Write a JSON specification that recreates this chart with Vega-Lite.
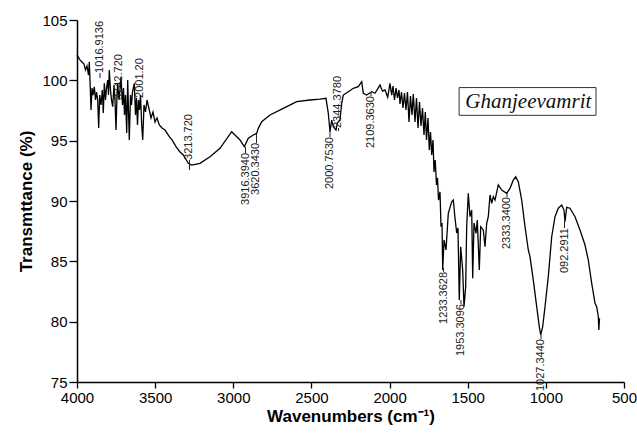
{
  "$schema": "https://vega.github.io/schema/vega-lite/v6.json",
  "width": 547,
  "height": 362,
  "autosize": "none",
  "padding": {"left": 77, "top": 20, "right": 13, "bottom": 52},
  "background": "white",
  "config": {"view": {"stroke": null}, "font": "Liberation Sans"},
  "datasets": {
    "spec": [
      {"w": 4000, "t": 102.1}, {"w": 3980.8, "t": 101.69}, {"w": 3968.0, "t": 101.52}, {"w": 3955.2, "t": 101.35},
      {"w": 3945.6, "t": 100.86}, {"w": 3936.0, "t": 101.19}, {"w": 3926.4, "t": 100.44}, {"w": 3921.3, "t": 101.54},
      {"w": 3916.8, "t": 100.03}, {"w": 3910.4, "t": 97.54}, {"w": 3904.0, "t": 99.36}, {"w": 3897.6, "t": 98.78},
      {"w": 3889.3, "t": 99.47}, {"w": 3881.6, "t": 98.37}, {"w": 3875.2, "t": 99.03}, {"w": 3867.6, "t": 98.37},
      {"w": 3861.2, "t": 96.05}, {"w": 3854.8, "t": 98.78}, {"w": 3846.4, "t": 97.96}, {"w": 3838.1, "t": 99.2},
      {"w": 3831.7, "t": 97.29}, {"w": 3825.3, "t": 99.75}, {"w": 3817.6, "t": 98.37}, {"w": 3811.2, "t": 99.36},
      {"w": 3803.6, "t": 100.03}, {"w": 3798.4, "t": 98.78}, {"w": 3793.3, "t": 100.86}, {"w": 3785.7, "t": 99.2},
      {"w": 3779.3, "t": 98.37}, {"w": 3771.6, "t": 97.82}, {"w": 3763.3, "t": 99.61}, {"w": 3756.9, "t": 98.37},
      {"w": 3750.5, "t": 95.88}, {"w": 3744.1, "t": 98.78}, {"w": 3739.6, "t": 99.75}, {"w": 3731.3, "t": 98.37},
      {"w": 3724.9, "t": 99.2}, {"w": 3718.5, "t": 100.3}, {"w": 3708.9, "t": 97.96}, {"w": 3702.5, "t": 99.36},
      {"w": 3696.1, "t": 97.13}, {"w": 3689.7, "t": 98.78}, {"w": 3682.0, "t": 95.64}, {"w": 3675.6, "t": 100.03},
      {"w": 3670.5, "t": 97.54}, {"w": 3665.4, "t": 95.06}, {"w": 3657.7, "t": 98.78}, {"w": 3651.3, "t": 97.96},
      {"w": 3644.9, "t": 99.03}, {"w": 3633.4, "t": 99.75}, {"w": 3625.7, "t": 97.13}, {"w": 3619.3, "t": 98.54},
      {"w": 3612.9, "t": 96.3}, {"w": 3606.5, "t": 98.37}, {"w": 3600.1, "t": 97.54}, {"w": 3593.7, "t": 98.78},
      {"w": 3586.0, "t": 96.3}, {"w": 3579.6, "t": 95.06}, {"w": 3571.3, "t": 97.96}, {"w": 3561.7, "t": 97.38},
      {"w": 3552.1, "t": 98.37}, {"w": 3537.4, "t": 97.54}, {"w": 3526.5, "t": 96.88}, {"w": 3513.7, "t": 97.38},
      {"w": 3500.9, "t": 96.55}, {"w": 3488.1, "t": 96.88}, {"w": 3473.4, "t": 96.3}, {"w": 3456.1, "t": 96.05},
      {"w": 3437.1, "t": 95.88}, {"w": 3409.4, "t": 95.33}, {"w": 3392.1, "t": 95.06}, {"w": 3366.6, "t": 94.5},
      {"w": 3341.0, "t": 94.06}, {"w": 3319.8, "t": 93.81},
      {"w": 3287.8, "t": 93.12}, {"w": 3266.1, "t": 92.98}, {"w": 3213.0, "t": 93.12}, {"w": 3149.0, "t": 93.67},
      {"w": 3085.0, "t": 94.37}, {"w": 3010.2, "t": 95.74}, {"w": 2957.0, "t": 95.06}, {"w": 2929.5, "t": 94.5},
      {"w": 2903.9, "t": 95.2}, {"w": 2871.9, "t": 95.47}, {"w": 2850.2, "t": 95.61}, {"w": 2840.0, "t": 96.02},
      {"w": 2818.2, "t": 96.57}, {"w": 2765.1, "t": 97.13}, {"w": 2680.0, "t": 97.68}, {"w": 2594.3, "t": 98.23},
      {"w": 2509.2, "t": 98.37}, {"w": 2445.2, "t": 98.45}, {"w": 2406.8, "t": 98.51}, {"w": 2392.1, "t": 97.27},
      {"w": 2381.2, "t": 95.74}, {"w": 2370.3, "t": 96.71}, {"w": 2360.0, "t": 96.16}, {"w": 2342.8, "t": 95.88},
      {"w": 2334.5, "t": 96.46}, {"w": 2317.2, "t": 96.71}, {"w": 2306.4, "t": 98.1}, {"w": 2296.1, "t": 98.78},
      {"w": 2264.1, "t": 99.06}, {"w": 2232.1, "t": 99.34}, {"w": 2200.1, "t": 99.47}, {"w": 2178.4, "t": 99.89},
      {"w": 2168.1, "t": 98.93}, {"w": 2146.4, "t": 98.78}, {"w": 2114.4, "t": 99.06}, {"w": 2093.3, "t": 98.93},
      {"w": 2061.3, "t": 99.61}, {"w": 2045.0, "t": 99.1}, {"w": 2029.3, "t": 99.2}, {"w": 2012.0, "t": 98.6},
      {"w": 1997.3, "t": 99.75}, {"w": 1986.4, "t": 98.78}, {"w": 1978.1, "t": 99.53}, {"w": 1968.5, "t": 98.37},
      {"w": 1958.9, "t": 99.36}, {"w": 1949.3, "t": 98.54}, {"w": 1939.7, "t": 99.2}, {"w": 1933.3, "t": 98.04},
      {"w": 1923.7, "t": 99.03}, {"w": 1914.1, "t": 97.71}, {"w": 1904.6, "t": 98.95}, {"w": 1895.0, "t": 97.54},
      {"w": 1885.4, "t": 99.03}, {"w": 1875.8, "t": 96.55}, {"w": 1866.2, "t": 98.7}, {"w": 1856.6, "t": 97.13},
      {"w": 1848.2, "t": 98.87}, {"w": 1837.3, "t": 96.55}, {"w": 1827.7, "t": 98.54}, {"w": 1818.1, "t": 96.05},
      {"w": 1808.5, "t": 98.2}, {"w": 1798.9, "t": 96.22}, {"w": 1789.3, "t": 97.71}, {"w": 1779.7, "t": 95.47},
      {"w": 1771.4, "t": 97.38}, {"w": 1763.7, "t": 95.06}, {"w": 1754.1, "t": 96.88}, {"w": 1745.8, "t": 94.23},
      {"w": 1738.1, "t": 95.72}, {"w": 1730.4, "t": 93.81}, {"w": 1722.1, "t": 95.06}, {"w": 1715.7, "t": 92.4},
      {"w": 1708.1, "t": 93.4}, {"w": 1699.7, "t": 91.33}, {"w": 1693.3, "t": 91.91}, {"w": 1686.9, "t": 90.08},
      {"w": 1677.3, "t": 90.75}, {"w": 1670.9, "t": 87.87}, {"w": 1664.5, "t": 88.18}, {"w": 1660.0, "t": 84.28},
      {"w": 1651.7, "t": 86.77}, {"w": 1638.9, "t": 85.94}, {"w": 1624.2, "t": 88.98}, {"w": 1602.5, "t": 89.94},
      {"w": 1592.3, "t": 90.08}, {"w": 1581.4, "t": 88.59}, {"w": 1570.5, "t": 87.35}, {"w": 1562.3, "t": 87.76},
      {"w": 1553.9, "t": 81.8}, {"w": 1545.0, "t": 86.21}, {"w": 1532.2, "t": 84.28}, {"w": 1523.8, "t": 81.24},
      {"w": 1513.0, "t": 82.9}, {"w": 1506.6, "t": 87.87}, {"w": 1496.3, "t": 90.64}, {"w": 1485.4, "t": 88.7},
      {"w": 1474.5, "t": 89.25}, {"w": 1468.1, "t": 83.59}, {"w": 1459.8, "t": 88.18}, {"w": 1447.0, "t": 87.32},
      {"w": 1438.7, "t": 88.43}, {"w": 1425.9, "t": 84.28}, {"w": 1416.9, "t": 87.87}, {"w": 1400.3, "t": 87.6},
      {"w": 1389.4, "t": 86.21}, {"w": 1378.5, "t": 88.15}, {"w": 1368.3, "t": 88.7}, {"w": 1357.4, "t": 90.5},
      {"w": 1346.5, "t": 89.81}, {"w": 1336.3, "t": 90.36}, {"w": 1325.5, "t": 90.08}, {"w": 1304.3, "t": 91.33},
      {"w": 1282.6, "t": 90.91}, {"w": 1250.6, "t": 90.64}, {"w": 1229.5, "t": 91.05}, {"w": 1208.3, "t": 91.74},
      {"w": 1193.0, "t": 92.01}, {"w": 1176.3, "t": 91.6}, {"w": 1154.6, "t": 90.08}, {"w": 1133.5, "t": 87.87},
      {"w": 1112.3, "t": 85.94}, {"w": 1101.5, "t": 85.38}, {"w": 1080.4, "t": 83.45}, {"w": 1058.6, "t": 81.24},
      {"w": 1042.0, "t": 79.58}, {"w": 1033.0, "t": 78.9}, {"w": 1020.2, "t": 79.58}, {"w": 1005.5, "t": 81.24},
      {"w": 984.4, "t": 83.73}, {"w": 962.6, "t": 87.04}, {"w": 941.5, "t": 88.7}, {"w": 920.4, "t": 89.4},
      {"w": 898.6, "t": 89.67}, {"w": 883.9, "t": 89.25}, {"w": 877.5, "t": 88.28}, {"w": 866.6, "t": 89.48},
      {"w": 845.5, "t": 89.4}, {"w": 813.5, "t": 88.7}, {"w": 781.5, "t": 87.6}, {"w": 749.5, "t": 86.35},
      {"w": 728.4, "t": 85.11}, {"w": 706.6, "t": 83.18}, {"w": 685.5, "t": 81.52}, {"w": 674.6, "t": 81.24},
      {"w": 664.4, "t": 80.41}, {"w": 661.1, "t": 79.31}, {"w": 656.7, "t": 80.28}
    ],
    "labels": [
      {"w": 3852.8, "t": 100.19, "t2": 100.61, "s": "1016.9136", "a": "l"},
      {"w": 3731.3, "t": 98.37, "t2": 98.37, "s": "3742.720", "a": "l"},
      {"w": 3596.9, "t": 98.54, "t2": 98.54, "s": "2001.20", "a": "l"},
      {"w": 3280.2, "t": 92.57, "t2": 93.4, "s": "3213.720", "a": "l"},
      {"w": 2921.8, "t": 94.48, "t2": 93.98, "s": "3916.3940", "a": "r"},
      {"w": 2851.5, "t": 95.55, "t2": 94.81, "s": "3620.3430", "a": "r"},
      {"w": 2381.2, "t": 95.8, "t2": 95.3, "s": "2000.7530", "a": "r"},
      {"w": 2326.8, "t": 95.8, "t2": 96.05, "s": "2344.3780", "a": "l"},
      {"w": 2118.8, "t": 99.03, "t2": 98.7, "s": "2109.3630", "a": "r"},
      {"w": 1654.9, "t": 84.45, "t2": 84.12, "s": "1233.3628", "a": "r"},
      {"w": 1542.9, "t": 81.8, "t2": 81.46, "s": "1953.3096", "a": "r"},
      {"w": 1248.6, "t": 90.66, "t2": 90.33, "s": "2333.3400", "a": "r"},
      {"w": 1031.1, "t": 78.9, "t2": 78.56, "s": "1027.3440", "a": "r"},
      {"w": 880.7, "t": 88.34, "t2": 87.76, "s": "092.2911", "a": "r"}
    ],
    "box": [
      {"w1": 1555.0, "w2": 679.2, "t1": 99.4, "t2": 97.1, "w": 1112.0, "t": 98.2, "s": "Ghanjeevamrit"}
    ]
  },
  "layer": [
    {
      "data": {"name": "spec"},
      "mark": {"type": "line", "color": "black", "strokeWidth": 1.3},
      "encoding": {
        "x": {
          "field": "w", "type": "quantitative",
          "scale": {"domain": [500, 4000], "reverse": true, "nice": false, "zero": false},
          "axis": {
            "title": "Wavenumbers (cm⁻¹)",
            "values": [4000, 3750, 3500, 3250, 3000, 2750, 2500, 2250, 2000, 1750, 1500, 1250, 1000, 750, 500],
            "format": "d",
            "labelExpr": "datum.value % 500 === 0 ? datum.label : ''",
            "labelFlush": false,
            "labelOverlap": false,
            "grid": false,
            "domainColor": "black", "domainWidth": 1.5,
            "tickColor": "black", "tickWidth": 1.3, "tickSize": 6,
            "labelColor": "black", "labelFontSize": 15, "labelPadding": 2,
            "labelFont": "Liberation Sans",
            "titleColor": "black", "titleFontSize": 17, "titleFontWeight": "bold", "titlePadding": 3,
            "titleFont": "Liberation Sans"
          }
        },
        "y": {
          "field": "t", "type": "quantitative",
          "scale": {"domain": [75, 105], "nice": false, "zero": false},
          "axis": {
            "title": "Transmttance (%)",
            "values": [75, 77.5, 80, 82.5, 85, 87.5, 90, 92.5, 95, 97.5, 100, 102.5, 105],
            "format": "d",
            "labelExpr": "datum.value % 5 === 0 ? datum.label : ''",
            "labelFlush": false,
            "labelOverlap": false,
            "grid": false,
            "domainColor": "black", "domainWidth": 1.5,
            "tickColor": "black", "tickWidth": 1.3,
            "tickSize": {"condition": {"test": "datum.value % 5 === 0", "value": 8}, "value": 5},
            "labelColor": "black", "labelFontSize": 15, "labelPadding": 2,
            "labelFont": "Liberation Sans",
            "titleColor": "black", "titleFontSize": 17, "titleFontWeight": "bold", "titlePadding": 6,
            "titleFont": "Liberation Sans"
          }
        }
      }
    },
    {
      "data": {"name": "labels"},
      "mark": {"type": "rule", "color": "#222", "strokeWidth": 1},
      "encoding": {
        "x": {"field": "w", "type": "quantitative"},
        "y": {"field": "t", "type": "quantitative"},
        "y2": {"field": "t2"}
      }
    },
    {
      "data": {"name": "labels"},
      "transform": [{"filter": "datum.a === 'l'"}],
      "mark": {"type": "text", "angle": 270, "align": "left", "baseline": "middle", "fontSize": 11, "font": "Liberation Sans", "color": "#222"},
      "encoding": {
        "x": {"field": "w", "type": "quantitative"},
        "y": {"field": "t2", "type": "quantitative"},
        "text": {"field": "s"}
      }
    },
    {
      "data": {"name": "labels"},
      "transform": [{"filter": "datum.a === 'r'"}],
      "mark": {"type": "text", "angle": 270, "align": "right", "baseline": "middle", "fontSize": 11, "font": "Liberation Sans", "color": "#222"},
      "encoding": {
        "x": {"field": "w", "type": "quantitative"},
        "y": {"field": "t2", "type": "quantitative"},
        "text": {"field": "s"}
      }
    },
    {
      "data": {"name": "box"},
      "mark": {"type": "rect", "fill": "white", "stroke": "#333", "strokeWidth": 1},
      "encoding": {
        "x": {"field": "w1", "type": "quantitative"},
        "x2": {"field": "w2"},
        "y": {"field": "t1", "type": "quantitative"},
        "y2": {"field": "t2"}
      }
    },
    {
      "data": {"name": "box"},
      "mark": {"type": "text", "align": "center", "baseline": "middle", "fontSize": 21, "font": "Liberation Serif", "fontStyle": "italic", "color": "#111"},
      "encoding": {
        "x": {"field": "w", "type": "quantitative"},
        "y": {"field": "t", "type": "quantitative"},
        "text": {"field": "s"}
      }
    }
  ]
}
